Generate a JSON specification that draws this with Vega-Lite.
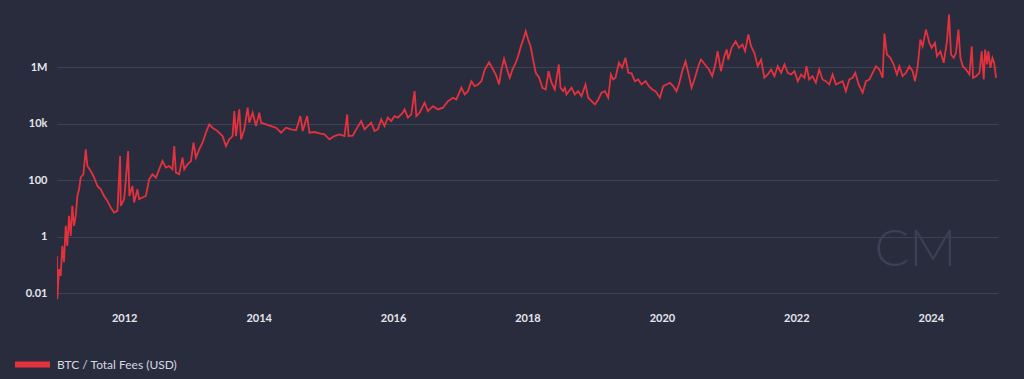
{
"$schema": "https://vega.github.io/schema/vega-lite/v6.json",
"width": 941, "height": 291,
"autosize": {"type": "none"},
"padding": {"left": 57, "top": 11, "right": 26, "bottom": 77},
"background": "#292c3d",
"config": {"view": {"stroke": null}, "font": "Lato"},
"resolve": {"axis": {"x": "independent", "y": "independent"}},
"layer": [
{"data": {"values": [{"label": "CM", "year": 2023.77, "fees": 0.34}]},
 "mark": {"type": "text", "font": "Lato", "fontSize": 52, "fontWeight": 300, "color": "#3c4056", "baseline": "middle", "align": "center"},
 "encoding": {"x": {"field": "year", "type": "quantitative", "axis": null}, "y": {"field": "fees", "type": "quantitative", "axis": null}, "text": {"field": "label"}}},
{"data": {"values": [
{"year":2011.0,"fees":0.21},{"year":2011.004,"fees":0.0063},{"year":2011.03,"fees":0.073},{"year":2011.055,"fees":0.042},{"year":2011.079,"fees":0.485},{"year":2011.104,"fees":0.129},{"year":2011.13,"fees":2.47},{"year":2011.153,"fees":0.485},{"year":2011.179,"fees":5.57},{"year":2011.204,"fees":1.09},{"year":2011.228,"fees":12.6},{"year":2011.253,"fees":2.47},{"year":2011.279,"fees":5.57},{"year":2011.303,"fees":28.3},{"year":2011.328,"fees":48.9},{"year":2011.353,"fees":130},{"year":2011.392,"fees":166},{"year":2011.428,"fees":1265},{"year":2011.452,"fees":325},{"year":2011.502,"fees":217},{"year":2011.551,"fees":130},{"year":2011.601,"fees":64},{"year":2011.651,"fees":48.9},{"year":2011.7,"fees":28.3},{"year":2011.75,"fees":18.9},{"year":2011.8,"fees":11.0},{"year":2011.849,"fees":7.3},{"year":2011.899,"fees":8.4},{"year":2011.939,"fees":734},{"year":2011.949,"fees":12.6},{"year":2011.999,"fees":21.7},{"year":2012.024,"fees":110},{"year":2012.058,"fees":1100},{"year":2012.077,"fees":28.3},{"year":2012.122,"fees":64},{"year":2012.148,"fees":16.6},{"year":2012.197,"fees":48.9},{"year":2012.222,"fees":21.7},{"year":2012.271,"fees":25},{"year":2012.322,"fees":28.3},{"year":2012.371,"fees":110},{"year":2012.42,"fees":166},{"year":2012.471,"fees":126},{"year":2012.52,"fees":249},{"year":2012.569,"fees":489},{"year":2012.62,"fees":286},{"year":2012.669,"fees":325},{"year":2012.718,"fees":249},{"year":2012.744,"fees":1656},{"year":2012.769,"fees":190},{"year":2012.818,"fees":166},{"year":2012.867,"fees":644},{"year":2012.893,"fees":249},{"year":2012.942,"fees":373},{"year":2012.993,"fees":489},{"year":2013.031,"fees":2183},{"year":2013.067,"fees":644},{"year":2013.116,"fees":1265},{"year":2013.165,"fees":2183},{"year":2013.216,"fees":4930},{"year":2013.265,"fees":9680},{"year":2013.314,"fees":7400},{"year":2013.389,"fees":5610},{"year":2013.463,"fees":3735},{"year":2013.514,"fees":1656},{"year":2013.563,"fees":2856},{"year":2013.612,"fees":3735},
{"year":2013.638,"fees":28600},{"year":2013.663,"fees":3735},{"year":2013.712,"fees":32800},{"year":2013.738,"fees":2856},{"year":2013.787,"fees":6440},{"year":2013.836,"fees":37700},{"year":2013.861,"fees":11100},{"year":2013.911,"fees":25100},{"year":2013.961,"fees":8430},{"year":2014.01,"fees":25100},{"year":2014.036,"fees":11100},{"year":2014.11,"fees":9680},{"year":2014.185,"fees":8430},{"year":2014.259,"fees":7400},{"year":2014.334,"fees":4930},{"year":2014.408,"fees":7400},{"year":2014.483,"fees":6440},{"year":2014.557,"fees":6000},{"year":2014.621,"fees":19000},{"year":2014.656,"fees":5610},{"year":2014.721,"fees":19000},{"year":2014.756,"fees":4930},{"year":2014.83,"fees":5200},{"year":2014.905,"fees":4700},{"year":2014.979,"fees":4290},{"year":2015.054,"fees":2856},{"year":2015.128,"fees":3735},{"year":2015.203,"fees":4290},{"year":2015.277,"fees":3735},{"year":2015.317,"fees":21800},{"year":2015.337,"fees":3735},{"year":2015.401,"fees":3900},{"year":2015.452,"fees":6440},{"year":2015.526,"fees":12650},{"year":2015.575,"fees":6440},{"year":2015.624,"fees":8430},{"year":2015.675,"fees":11100},{"year":2015.724,"fees":5610},{"year":2015.773,"fees":6440},{"year":2015.824,"fees":14550},{"year":2015.873,"fees":8430},{"year":2015.922,"fees":16700},{"year":2015.973,"fees":12650},{"year":2016.022,"fees":19000},{"year":2016.071,"fees":16700},{"year":2016.146,"fees":25100},
{"year":2016.171,"fees":32800},{"year":2016.221,"fees":16700},{"year":2016.271,"fees":21800},{"year":2016.32,"fees":145500},{"year":2016.346,"fees":19000},{"year":2016.395,"fees":25100},{"year":2016.469,"fees":56600},{"year":2016.518,"fees":28600},{"year":2016.593,"fees":42900},{"year":2016.667,"fees":32800},{"year":2016.742,"fees":37700},{"year":2016.816,"fees":64400},{"year":2016.891,"fees":85000},{"year":2016.942,"fees":74000},{"year":2017.016,"fees":192000},{"year":2017.066,"fees":111000},{"year":2017.115,"fees":145500},{"year":2017.165,"fees":328000},{"year":2017.214,"fees":218000},{"year":2017.264,"fees":251000},{"year":2017.314,"fees":328000},{"year":2017.364,"fees":849000},{"year":2017.428,"fees":1540000},{"year":2017.488,"fees":849000},{"year":2017.538,"fees":493000},{"year":2017.577,"fees":251000},{"year":2017.612,"fees":849000},{"year":2017.651,"fees":2030000},{"year":2017.696,"fees":849000},{"year":2017.736,"fees":433000},{"year":2017.776,"fees":849000},{"year":2017.825,"fees":1470000},{"year":2017.86,"fees":2510000},{"year":2017.895,"fees":4970000},{"year":2017.944,"fees":11200000},{"year":2017.974,"fees":19200000},{"year":2018.009,"fees":9750000},{"year":2018.045,"fees":5660000},{"year":2018.083,"fees":1920000},{"year":2018.123,"fees":650000},{"year":2018.173,"fees":433000},{"year":2018.223,"fees":192000},{"year":2018.272,"fees":167000},{"year":2018.313,"fees":740000},{"year":2018.357,"fees":288000},{"year":2018.406,"fees":167000},{"year":2018.466,"fees":1280000},{"year":2018.491,"fees":192000},
{"year":2018.53,"fees":145500},{"year":2018.556,"fees":192000},{"year":2018.58,"fees":111000},{"year":2018.655,"fees":192000},{"year":2018.705,"fees":111000},{"year":2018.754,"fees":145500},{"year":2018.803,"fees":96800},{"year":2018.863,"fees":251000},{"year":2018.903,"fees":85000},{"year":2018.953,"fees":64400},{"year":2019.003,"fees":49300},{"year":2019.052,"fees":74000},{"year":2019.101,"fees":128000},{"year":2019.152,"fees":145500},{"year":2019.201,"fees":85000},{"year":2019.241,"fees":566000},{"year":2019.275,"fees":377000},{"year":2019.309,"fees":433000},{"year":2019.36,"fees":1470000},{"year":2019.409,"fees":975000},{"year":2019.458,"fees":2200000},{"year":2019.499,"fees":650000},{"year":2019.548,"fees":620000},{"year":2019.598,"fees":328000},{"year":2019.647,"fees":377000},{"year":2019.697,"fees":251000},{"year":2019.756,"fees":328000},{"year":2019.806,"fees":218000},{"year":2019.855,"fees":167000},{"year":2019.904,"fees":145500},{"year":2019.97,"fees":85000},{"year":2020.019,"fees":218000},{"year":2020.068,"fees":251000},{"year":2020.119,"fees":288000},{"year":2020.168,"fees":218000},{"year":2020.217,"fees":145500},{"year":2020.253,"fees":251000},{"year":2020.302,"fees":740000},{"year":2020.351,"fees":1670000},{"year":2020.392,"fees":650000},{"year":2020.441,"fees":192000},{"year":2020.492,"fees":433000},{"year":2020.541,"fees":1110000},{"year":2020.581,"fees":1920000},{"year":2020.64,"fees":1280000},{"year":2020.7,"fees":849000},{"year":2020.749,"fees":493000},{"year":2020.799,"fees":1470000},{"year":2020.828,"fees":3770000},{"year":2020.879,"fees":740000},{"year":2020.928,"fees":2510000},{"year":2020.963,"fees":4330000},
{"year":2020.988,"fees":1920000},{"year":2021.037,"fees":4970000},{"year":2021.097,"fees":8490000},{"year":2021.147,"fees":4970000},{"year":2021.197,"fees":6500000},{"year":2021.237,"fees":3770000},{"year":2021.286,"fees":14700000},{"year":2021.326,"fees":5660000},{"year":2021.375,"fees":3300000},{"year":2021.425,"fees":1110000},{"year":2021.475,"fees":1920000},{"year":2021.524,"fees":433000},{"year":2021.574,"fees":566000},{"year":2021.624,"fees":849000},{"year":2021.674,"fees":493000},{"year":2021.723,"fees":1110000},{"year":2021.774,"fees":650000},{"year":2021.823,"fees":1280000},{"year":2021.872,"fees":650000},{"year":2021.922,"fees":566000},{"year":2021.972,"fees":740000},{"year":2022.021,"fees":328000},{"year":2022.072,"fees":566000},{"year":2022.121,"fees":433000},{"year":2022.151,"fees":1110000},{"year":2022.191,"fees":377000},{"year":2022.24,"fees":493000},{"year":2022.29,"fees":288000},{"year":2022.34,"fees":849000},{"year":2022.389,"fees":377000},{"year":2022.439,"fees":328000},{"year":2022.49,"fees":251000},{"year":2022.539,"fees":566000},{"year":2022.588,"fees":251000},{"year":2022.639,"fees":288000},{"year":2022.688,"fees":328000},{"year":2022.737,"fees":145500},{"year":2022.788,"fees":377000},{"year":2022.837,"fees":433000},{"year":2022.877,"fees":650000},{"year":2022.926,"fees":251000},{"year":2022.986,"fees":128000},{"year":2023.035,"fees":328000},{"year":2023.086,"fees":377000},{"year":2023.135,"fees":650000},{"year":2023.184,"fees":1110000},{"year":2023.235,"fees":849000},{"year":2023.284,"fees":433000},{"year":2023.31,"fees":15900000},{"year":2023.347,"fees":2880000},{"year":2023.398,"fees":2200000},{"year":2023.447,"fees":1280000},{"year":2023.496,"fees":566000},{"year":2023.532,"fees":1110000},{"year":2023.581,"fees":493000},{"year":2023.631,"fees":650000},{"year":2023.681,"fees":1110000},{"year":2023.73,"fees":740000},{"year":2023.765,"fees":328000},{"year":2023.805,"fees":1110000},{"year":2023.845,"fees":9750000},{"year":2023.879,"fees":5660000},{"year":2023.928,"fees":22000000},{"year":2023.979,"fees":7460000},{"year":2024.013,"fees":4970000},{"year":2024.062,"fees":7460000},{"year":2024.092,"fees":2510000},{"year":2024.143,"fees":3770000},{"year":2024.192,"fees":1470000},{"year":2024.241,"fees":8490000},{"year":2024.271,"fees":74700000},{"year":2024.301,"fees":2880000},{"year":2024.341,"fees":2200000},{"year":2024.375,"fees":3300000},{"year":2024.411,"fees":22000000},{"year":2024.441,"fees":2200000},{"year":2024.475,"fees":1110000},{"year":2024.525,"fees":849000},{"year":2024.575,"fees":566000},{"year":2024.61,"fees":5660000},{"year":2024.629,"fees":433000},{"year":2024.674,"fees":493000},{"year":2024.724,"fees":650000},{"year":2024.758,"fees":3770000},{"year":2024.788,"fees":377000},{"year":2024.808,"fees":4330000},{"year":2024.837,"fees":1280000},{"year":2024.857,"fees":3770000},{"year":2024.887,"fees":975000},{"year":2024.917,"fees":2200000},{"year":2024.942,"fees":1470000},{"year":2024.972,"fees":433000}
]},
 "mark": {"type": "line", "strokeWidth": 1.8, "clip": true, "interpolate": "linear"},
 "encoding": {
  "x": {"field": "year", "type": "quantitative", "scale": {"domain": [2011, 2025], "nice": false, "zero": false},
        "axis": {"values": [2012, 2014, 2016, 2018, 2020, 2022, 2024], "format": "d", "title": null, "grid": false, "domain": false, "ticks": false, "labelColor": "#e4e6ec", "labelFont": "Lato", "labelFontSize": 11, "labelFontWeight": "bold", "labelPadding": 10}},
  "y": {"field": "fees", "type": "quantitative", "scale": {"type": "log", "domain": [0.005, 100000000], "nice": false},
        "axis": {"values": [0.01, 1, 100, 10000, 1000000], "labelExpr": "datum.value >= 500000 ? '1M' : datum.value >= 5000 ? '10k' : datum.value >= 50 ? '100' : datum.value >= 0.5 ? '1' : '0.01'", "title": null, "domain": false, "ticks": false, "grid": true, "gridColor": "#3d4154", "gridWidth": 1, "labelColor": "#e4e6ec", "labelFont": "Lato", "labelFontSize": 11, "labelFontWeight": "bold", "labelPadding": 10}},
  "color": {"datum": "BTC / Total Fees (USD)", "scale": {"range": ["#e3323e"]},
    "legend": {"orient": "none", "legendX": -42, "legendY": 336, "title": null, "padding": 0, "symbolType": "M-1,-0.17H1V0.17H-1Z", "symbolSize": 1225, "symbolStrokeWidth": 0, "symbolFillColor": "#e3323e", "labelColor": "#d6d8e0", "labelFont": "Lato", "labelFontSize": 12, "labelOffset": 7}}
 }}
]
}
